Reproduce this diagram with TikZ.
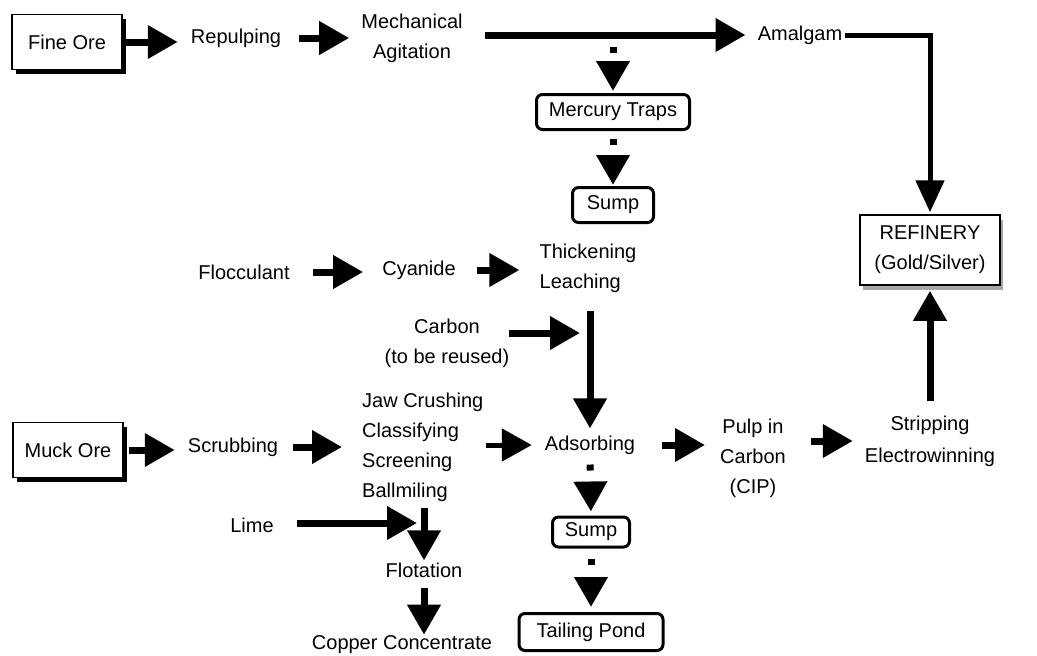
\documentclass[tikz,border=0pt]{standalone}
\usepackage{fontspec}
\setmainfont{Liberation Sans}
\usetikzlibrary{arrows.meta}
\usetikzlibrary{positioning}
\usetikzlibrary{shadows}
\tikzset{txt/.style={inner sep=0pt,font=\fontsize{20}{30}\selectfont}}
\tikzset{orebox/.style={txt,draw,line width=1.8pt,fill=white,minimum width=110pt,minimum height=55pt,
  drop shadow={shadow xshift=4pt,shadow yshift=-4pt,fill=black,opacity=1}}}
\tikzset{trap/.style={txt,draw,line width=3pt,rounded corners=6pt,minimum height=35pt}}
\tikzset{flow/.style={line width=7pt,-{Triangle[length=30pt,width=32pt]}}}
\tikzset{dflow/.style={flow,dash pattern=on 6pt off 30pt}}

\begin{document}
\begin{tikzpicture}[x=1pt,y=-1pt]
  \useasboundingbox (0,0) rectangle (1037,656);

  % gold circuit
  \node[orebox] (fine) at (67,42) {Fine Ore};
  \node[txt] (repulp) at (236,38) {Repulping};
  \node[txt,align=center] (mech) at (412,38) {Mechanical\\Agitation};
  \node[txt] (amal) at (800,35) {Amalgam};
  \node[trap,minimum width=153pt] (merc) at (613,112) {Mercury Traps};
  \node[trap,minimum width=81pt] (sump) at (613,205) {Sump};
  \node[txt,draw,line width=1.5pt,fill=white,minimum width=140pt,minimum height=70pt,align=center,
    drop shadow={shadow xshift=3pt,shadow yshift=-5pt,fill=gray!70,opacity=1}] (refin) at (930,250) {REFINERY\\(Gold/Silver)};

  \node[txt] (flocc) at (244,272) {Flocculant};
  \node[txt] (cyan) at (419,270) {Cyanide};
  \node[txt,align=left] (thick) at (588,268) {Thickening\\Leaching};
  \node[txt,align=center] (carb) at (447,343) {Carbon\\(to be reused)};
  \coordinate (cjoin) at (580,333);

  % muck ore circuit
  \node[orebox] (muck) at (68,450) {Muck Ore};
  \node[txt] (scrub) at (233,447) {Scrubbing};
  \node[txt,align=left,anchor=west] (crush) at (362,447) {Jaw Crushing\\Classifying\\Screening\\Ballmiling};
  \node[txt] (adsorb) at (590,445) {Adsorbing};
  \node[txt] (lime) at (252,525) {Lime};
  \coordinate (ljoin) at (417,523);
  \node[txt] (flot) at (424,570) {Flotation};
  \node[txt] (copper) at (402,645) {Copper Concentrate};
  \node[trap,minimum width=77pt,minimum height=30pt] (sumpb) at (591,532) {Sump};
  \node[trap,minimum width=144pt,minimum height=37pt] (pond) at (591,632) {Tailing Pond};
  \node[txt,align=center] (pulp) at (753,458) {Pulp in\\Carbon\\(CIP)};
  \node[txt,align=center,font=\fontsize{20}{32}\selectfont] (strip) at (930,441) {Stripping\\Electrowinning};

  % connectors
  \draw[flow,shorten <=3pt,shorten >=13pt] (fine.east) -- (fine.east -| repulp.west);
  \draw[flow,shorten <=18pt,shorten >=12pt] (repulp.east) -- (repulp.east -| mech.west);
  \draw[flow,shorten <=22pt,shorten >=12pt] (mech.east |- amal) -- (amal.west);
  \draw[flow,line width=5pt,-{Triangle[length=32pt,width=28pt]},shorten <=3pt,shorten >=2pt] (amal.east) -| (refin.north);
  \draw[dflow,shorten <=12pt,shorten >=2pt] (merc.north |- amal) -- (merc.north);
  \draw[dflow,shorten <=8pt,shorten >=1pt] (merc.south) -- (sump.north);

  \draw[flow,shorten <=23pt,shorten >=19pt] (flocc.east) -- (flocc.east -| cyan.west);
  \draw[flow,shorten <=21pt,shorten >=20pt] (cyan.east) -- (cyan.east -| thick.west);
  \draw[flow] (carb.east |- cjoin) -- (cjoin);
  \draw[flow,shorten <=18pt,shorten >=7pt] (thick.south -| adsorb) -- (adsorb.north);

  \draw[flow,shorten <=5pt,shorten >=13pt] (muck.east) -- (muck.east -| scrub.west);
  \draw[flow,shorten <=15pt,shorten >=20pt] (scrub.east) -- (scrub.east -| crush.west);
  \draw[flow,line width=5pt,shorten <=2pt,shorten >=13pt] (crush.east |- adsorb) -- (adsorb.west);
  \draw[flow,shorten <=23pt] (lime.east |- ljoin) -- (ljoin);
  \draw[flow,shorten <=6pt,shorten >=2pt] (crush.south -| flot) -- (flot.north);
  \draw[flow,shorten <=10pt,shorten >=1pt] (flot.south) -- (flot.south |- copper.north);

  \draw[dflow,shorten <=10pt,shorten >=4pt] (adsorb.south) -- (sumpb.north);
  \draw[dflow,shorten <=10pt,shorten >=5pt] (sumpb.south) -- (pond.north);
  \draw[flow,shorten <=27pt,shorten >=15pt] (adsorb.east) -- (adsorb.east -| pulp.west);
  \draw[flow,shorten <=25pt,shorten >=12pt] (pulp.east |- strip) -- (strip.west);
  \draw[flow,shorten <=14pt,shorten >=5pt] (strip.north) -- (refin.south);
\end{tikzpicture}
\end{document}
